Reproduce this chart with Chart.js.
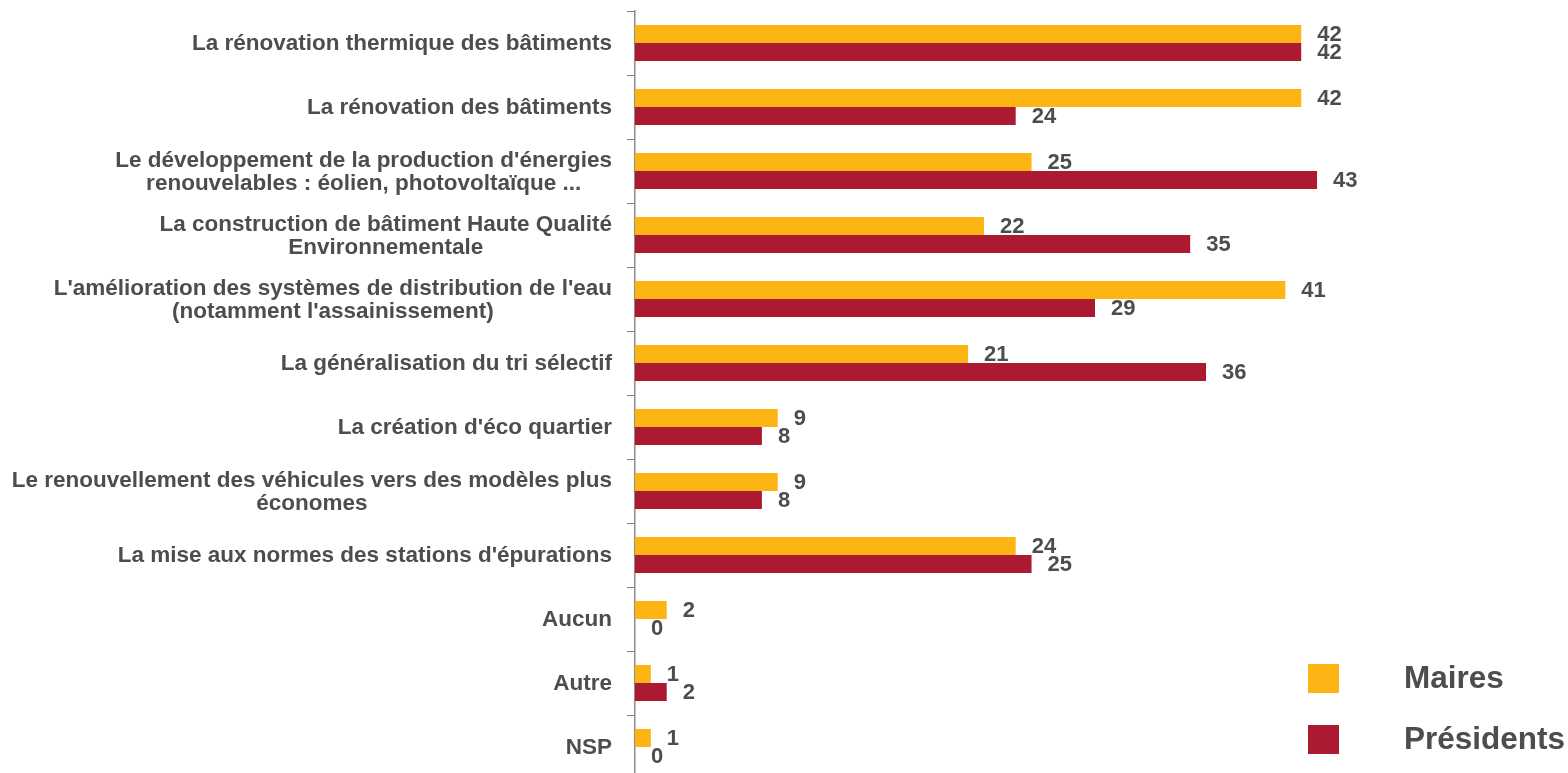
<!DOCTYPE html>
<html>
<head>
<meta charset="utf-8">
<script src="https://cdn.jsdelivr.net/npm/chart.js@4"></script>
<style>
  html, body { margin: 0; padding: 0; background: #fff; overflow: hidden; }
  canvas { display: block; }
</style>
</head>
<body>
<canvas id="chart" width="1568" height="790"></canvas>
<script>
"use strict";

var categories = [
    ["La rénovation thermique des bâtiments"],
    ["La rénovation des bâtiments"],
    ["Le développement de la production d'énergies", "renouvelables : éolien, photovoltaïque ..."],
    ["La construction de bâtiment Haute Qualité", "Environnementale"],
    ["L'amélioration des systèmes de distribution de l'eau", "(notamment l'assainissement)"],
    ["La généralisation du tri sélectif"],
    ["La création d'éco quartier"],
    ["Le renouvellement des véhicules vers des modèles plus", "économes"],
    ["La mise aux normes des stations d'épurations"],
    ["Aucun"],
    ["Autre"],
    ["NSP"]
];
var maires = [42, 42, 25, 22, 41, 21, 9, 9, 24, 2, 1, 1];
var presidents = [42, 24, 43, 35, 29, 36, 8, 8, 25, 0, 2, 0];
var seriesNames = ["Maires", "Présidents"];
var seriesColors = ["#FDB515", "#AB1A31"];

var textColor = "#4D4D4D";
var fontFamily = "'Liberation Sans', Arial, Helvetica, sans-serif";

// category labels, each line centred on the widest line, block right-aligned
var categoryLabels = {
    id: "categoryLabels",
    afterDraw: function (chart) {
        var ctx = chart.ctx;
        var yScale = chart.scales.y;
        var right = 612, lineH = 23;
        ctx.save();
        ctx.font = "bold 22.5px " + fontFamily;
        ctx.fillStyle = textColor;
        ctx.textAlign = "center";
        ctx.textBaseline = "middle";
        categories.forEach(function (lines, i) {
            var maxW = 0;
            lines.forEach(function (l) { maxW = Math.max(maxW, ctx.measureText(l).width); });
            var cx = right - maxW / 2;
            var cy = yScale.getPixelForValue(i) + 1;
            var y0 = cy - (lines.length - 1) * lineH / 2;
            lines.forEach(function (l, k) { ctx.fillText(l, cx, y0 + k * lineH); });
        });
        ctx.restore();
    }
};

// value labels at the end of every bar
var valueLabels = {
    id: "valueLabels",
    afterDatasetsDraw: function (chart) {
        var ctx = chart.ctx;
        ctx.save();
        ctx.font = "bold 22px " + fontFamily;
        ctx.fillStyle = textColor;
        ctx.textAlign = "left";
        ctx.textBaseline = "middle";
        chart.data.datasets.forEach(function (ds, d) {
            chart.getDatasetMeta(d).data.forEach(function (bar, i) {
                ctx.fillText(String(ds.data[i]), bar.x + 16, bar.y + 1);
            });
        });
        ctx.restore();
    }
};

// legend in the lower right corner
var sideLegend = {
    id: "sideLegend",
    afterDraw: function (chart) {
        var ctx = chart.ctx;
        ctx.save();
        ctx.font = "bold 31.5px " + fontFamily;
        ctx.textBaseline = "middle";
        ctx.textAlign = "left";
        seriesNames.forEach(function (name, i) {
            var y = 664 + i * 61;
            ctx.fillStyle = seriesColors[i];
            ctx.fillRect(1308, y, 31, 29);
            ctx.fillStyle = textColor;
            ctx.fillText(name, 1404, y + 15);
        });
        ctx.restore();
    }
};

var ctx = document.getElementById("chart").getContext("2d");
var myChart = new Chart(ctx, {
    type: "bar",
    data: {
        labels: categories,
        datasets: [{
            label: seriesNames[0],
            data: maires,
            backgroundColor: seriesColors[0],
            borderWidth: 0
        }, {
            label: seriesNames[1],
            data: presidents,
            backgroundColor: seriesColors[1],
            borderWidth: 0
        }]
    },
    options: {
        indexAxis: "y",
        responsive: false,
        animation: false,
        layout: { padding: { top: 11, right: 13, bottom: 11, left: 0 } },
        datasets: {
            bar: { categoryPercentage: 0.5625, barPercentage: 1 }
        },
        scales: {
            x: {
                display: false,
                min: 0,
                max: 58
            },
            y: {
                afterFit: function (scale) { scale.width = 635; },
                ticks: { display: false },
                grid: {
                    drawOnChartArea: false,
                    drawTicks: true,
                    tickLength: 8,
                    tickWidth: 1,
                    tickColor: "#808080",
                    offset: true
                },
                border: { display: true, color: "#8C8C8C", width: 1.5 }
            }
        },
        plugins: {
            legend: { display: false },
            tooltip: { enabled: false }
        }
    },
    plugins: [categoryLabels, valueLabels, sideLegend]
});
</script>
</body>
</html>
